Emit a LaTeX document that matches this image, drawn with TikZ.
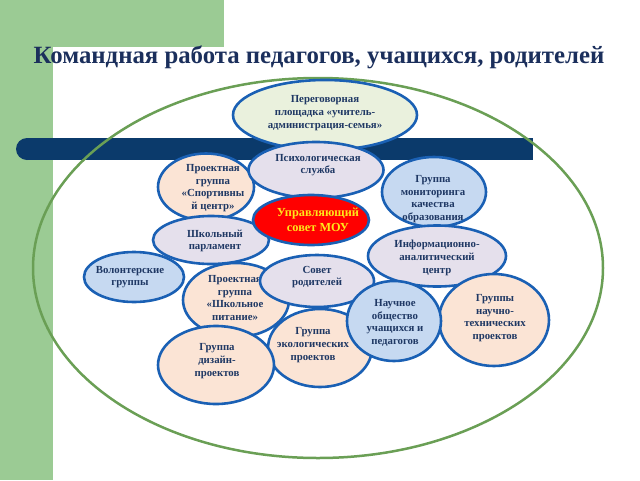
\documentclass[tikz,border=0pt]{standalone}
\usepackage{fontspec}
\setmainfont{Liberation Serif}
\usetikzlibrary{shapes.geometric}
\definecolor{bggreen}{HTML}{9BCB94}
\definecolor{navybar}{HTML}{0B3A6B}
\definecolor{ringgreen}{HTML}{6A9F55}
\definecolor{bline}{HTML}{1A60B4}
\definecolor{tcol}{HTML}{1F3864}
\definecolor{titlecol}{HTML}{1B2F5C}
\definecolor{peach}{HTML}{FBE4D5}
\definecolor{lav}{HTML}{E5E0EC}
\definecolor{lblue}{HTML}{C6D9F1}
\definecolor{lgreen}{HTML}{EAF1DD}
\definecolor{yell}{HTML}{FFE81A}
\begin{document}
\begin{tikzpicture}[x=1pt,y=-1pt,
  bub/.style={ellipse, draw=bline, line width=2.6pt, inner sep=0pt},
  txt/.style={font=\bfseries\fontsize{10.8}{12.7}\selectfont, text=tcol, align=center, inner sep=0pt}]
\useasboundingbox (0,0) rectangle (640,480);
\fill[bggreen] (0,0) rectangle (224,47);
\fill[bggreen] (0,0) rectangle (53,480);
\node[font=\bfseries\fontsize{24.8}{28}\selectfont, text=titlecol, inner sep=0pt] (title) at (319,57) {Командная работа педагогов, учащихся, родителей};
\fill[navybar] (27,138) rectangle (533,160);
\fill[navybar] (27,149) circle (11);
\draw[ringgreen, line width=2.5pt] (318,268) ellipse [x radius=285, y radius=190];
% 1
\node[bub, fill=lgreen, minimum width=184pt, minimum height=70pt] (e1) at (325,115) {};
\node[txt] (t1) at (325,113) {Переговорная\\площадка «учитель-\\администрация-семья»};
% 3
\node[bub, fill=peach, minimum width=96pt, minimum height=67pt] (e3) at (206,187) {};
\node[txt] (t3) at (213,188) {Проектная\\группа\\«Спортивны\\й центр»};
% 4
\node[bub, fill=lblue, minimum width=104pt, minimum height=70pt] (e4) at (434,192) {};
\node[txt] (t4) at (433,199) {Группа\\мониторинга\\качества\\образования};
% 2
\node[bub, fill=lav, minimum width=135pt, minimum height=56pt] (e2) at (316,170) {};
\node[txt] (t2) at (318,165) {Психологическая\\служба};
% 7
\node[bub, fill=lav, minimum width=138pt, minimum height=61pt] (e7) at (437,256) {};
\node[txt] (t7) at (437,258) {Информационно-\\аналитический\\центр};
% 8
\node[bub, fill=lblue, minimum width=100pt, minimum height=50pt] (e8) at (134,277) {};
\node[txt] (t8) at (130,277) {Волонтерские\\группы};
% 13
\node[bub, fill=peach, minimum width=104pt, minimum height=78pt] (e13) at (320,348) {};
\node[txt] (t13) at (313,345) {Группа\\экологических\\проектов};
% 9
\node[bub, fill=peach, minimum width=106pt, minimum height=74pt] (e9) at (236,300) {};
\node[txt] (t9) at (235,298) {Проектная\\группа\\«Школьное\\питание»};
% 6
\node[bub, fill=lav, minimum width=116pt, minimum height=48pt] (e6) at (211,240) {};
\node[txt] (t6) at (215,241) {Школьный\\парламент};
% 10
\node[bub, fill=lav, minimum width=114pt, minimum height=52pt] (e10) at (317,281) {};
\node[txt] (t10) at (317,277) {Совет\\родителей};
% 12
\node[bub, fill=peach, minimum width=110pt, minimum height=92pt] (e12) at (494,320) {};
\node[txt] (t12) at (495,318) {Группы\\научно-\\технических\\проектов};
% 11
\node[bub, fill=lblue, minimum width=94pt, minimum height=80pt] (e11) at (394,321) {};
\node[txt] (t11) at (395,323) {Научное\\общество\\учащихся и\\педагогов};
% 14
\node[bub, fill=peach, minimum width=116pt, minimum height=78pt] (e14) at (216,365) {};
\node[txt] (t14) at (217,361) {Группа\\дизайн-\\проектов};
% 5
\node[bub, fill=red, minimum width=116pt, minimum height=50pt] (e5) at (311,220) {};
\node[txt, text=yell, font=\bfseries\fontsize{12.3}{15}\selectfont] (t5) at (318,220) {Управляющий\\совет МОУ};
\end{tikzpicture}
\end{document}
